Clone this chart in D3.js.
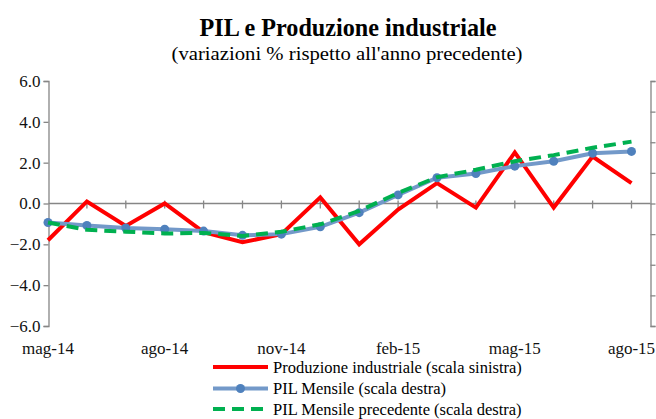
<!DOCTYPE html>
<html>
<head>
<meta charset="utf-8">
<script src="https://cdn.jsdelivr.net/npm/d3@7"></script>
<style>
  html, body { margin: 0; padding: 0; background: #fff; }
  svg { display: block; font-family: "Liberation Serif", "Times New Roman", serif; }
  svg text { font-family: "Liberation Serif", "Times New Roman", serif; }
</style>
</head>
<body>
<svg id="chart" width="656" height="419"></svg>
<script>
// ---- Data ----
const months = ["mag-14","giu-14","lug-14","ago-14","set-14","ott-14","nov-14","dic-14",
                "gen-15","feb-15","mar-15","apr-15","mag-15","giu-15","lug-15","ago-15"];
const tickLabels = ["mag-14","ago-14","nov-14","feb-15","mag-15","ago-15"];
const leftTicks = [-6, -4, -2, 0, 2, 4, 6];
const rightTicks = [-2, -1.5, -1, -0.5, 0, 0.5, 1, 1.5, 2];

// Produzione industriale (scala sinistra)
const produzione = [-1.8, 0.1, -1.1, 0.0, -1.4, -1.9, -1.5, 0.3, -2.0, -0.3, 1.0, -0.2, 2.5, -0.2, 2.3, 1.0];
// PIL Mensile (scala destra)
const pilMensile = [-0.31, -0.36, -0.40, -0.42, -0.45, -0.52, -0.50, -0.38, -0.15, 0.14, 0.42, 0.49, 0.61, 0.69, 0.82, 0.85];
// PIL Mensile precedente (scala destra)
const pilPrecedente = [-0.31, -0.43, -0.46, -0.49, -0.48, -0.53, -0.46, -0.34, -0.12, 0.17, 0.43, 0.55, 0.69, 0.79, 0.91, 1.01];

const seriesNames = ["Produzione industriale (scala sinistra)", "PIL Mensile (scala destra)", "PIL Mensile precedente (scala destra)"];

(function () {
// ---- Layout ----
const svg = d3.select("#chart");
const mLeft = 48.5, mRight = 650.5, mTop = 81, mBottom = 326;

const x = d3.scalePoint().domain(months).range([48, 631.5]);
const yL = d3.scaleLinear().domain([-6, 6]).range([mBottom, mTop]);
const yR = d3.scaleLinear().domain([-2, 2]).range([mBottom, mTop]);

const axisColor = "#868686";

// Title
svg.append("text").attr("x", 348).attr("y", 36).attr("text-anchor", "middle")
  .attr("font-size", 25).attr("font-weight", "bold").attr("fill", "#000")
  .attr("textLength", 297).attr("lengthAdjust", "spacingAndGlyphs")
  .text("PIL e Produzione  industriale");
svg.append("text").attr("x", 347).attr("y", 60).attr("text-anchor", "middle")
  .attr("font-size", 19).attr("fill", "#000")
  .attr("textLength", 351).attr("lengthAdjust", "spacingAndGlyphs")
  .text("(variazioni  %  rispetto all'anno  precedente)");

// Left axis
const gL = svg.append("g").attr("transform", `translate(${mLeft},0)`)
  .call(d3.axisLeft(yL).tickValues(leftTicks).tickFormat(d3.format(".1f")).tickSize(5).tickPadding(3));
gL.attr("font-family", null).attr("font-size", null);
gL.select(".domain").attr("stroke", axisColor).attr("stroke-width", 1.3);
gL.selectAll(".tick line").attr("stroke", axisColor).attr("stroke-width", 1.3);
gL.selectAll(".tick text").attr("font-size", 17).attr("fill", "#111");

// Right axis (no labels)
const gR = svg.append("g").attr("transform", `translate(${mRight},0)`)
  .call(d3.axisRight(yR).tickValues(rightTicks).tickFormat("").tickSize(5));
gR.attr("font-family", null);
gR.select(".domain").attr("stroke", axisColor).attr("stroke-width", 1.3);
gR.selectAll(".tick line").attr("stroke", axisColor).attr("stroke-width", 1.3);

// Zero category axis
const y0 = yL(0);
svg.append("line").attr("x1", mLeft).attr("x2", mRight).attr("y1", y0).attr("y2", y0)
  .attr("stroke", axisColor).attr("stroke-width", 1.3);
svg.append("g").selectAll("line").data(months.slice(1)).join("line")
  .attr("x1", d => x(d)).attr("x2", d => x(d))
  .attr("y1", y0 - 3).attr("y2", y0 + 5)
  .attr("stroke", axisColor).attr("stroke-width", 1.3);

// X labels
svg.append("g").selectAll("text").data(tickLabels).join("text")
  .attr("x", d => x(d)).attr("y", 354).attr("text-anchor", "middle")
  .attr("font-size", 17).attr("fill", "#111").text(d => d);

// Lines
const lineL = d3.line().x((d, i) => x(months[i])).y(d => yL(d));
const lineR = d3.line().x((d, i) => x(months[i])).y(d => yR(d));

svg.append("path").datum(produzione).attr("d", lineL)
  .attr("fill", "none").attr("stroke", "#FF0000").attr("stroke-width", 4)
  .attr("stroke-linejoin", "miter");

svg.append("path").datum(pilMensile).attr("d", lineR)
  .attr("fill", "none").attr("stroke", "#7399C9").attr("stroke-width", 4)
  .attr("stroke-linejoin", "round");
svg.append("g").selectAll("circle").data(pilMensile).join("circle")
  .attr("cx", (d, i) => x(months[i])).attr("cy", d => yR(d)).attr("r", 4.5)
  .attr("fill", "#4F81BD");

svg.append("path").datum(pilPrecedente).attr("d", lineR)
  .attr("fill", "none").attr("stroke", "#00B050").attr("stroke-width", 4)
  .attr("stroke-dasharray", "12,7").attr("stroke-linejoin", "round");

// Legend
const lg = svg.append("g");
const lx1 = 213, lx2 = 268, tx = 273;
const rows = [367, 388.5, 409];
lg.append("line").attr("x1", lx1).attr("x2", lx2).attr("y1", rows[0]).attr("y2", rows[0])
  .attr("stroke", "#FF0000").attr("stroke-width", 4);
lg.append("line").attr("x1", lx1).attr("x2", lx2).attr("y1", rows[1]).attr("y2", rows[1])
  .attr("stroke", "#7399C9").attr("stroke-width", 4);
lg.append("circle").attr("cx", (lx1 + lx2) / 2).attr("cy", rows[1]).attr("r", 4.5).attr("fill", "#4F81BD");
lg.append("line").attr("x1", lx1).attr("x2", lx2).attr("y1", rows[2]).attr("y2", rows[2])
  .attr("stroke", "#00B050").attr("stroke-width", 4).attr("stroke-dasharray", "12,7");
lg.selectAll("text").data(seriesNames).join("text")
  .attr("x", tx).attr("y", (d, i) => rows[i] + 5.5)
  .attr("font-size", 16.5).attr("fill", "#000").text(d => d);
})();
</script>
</body>
</html>
